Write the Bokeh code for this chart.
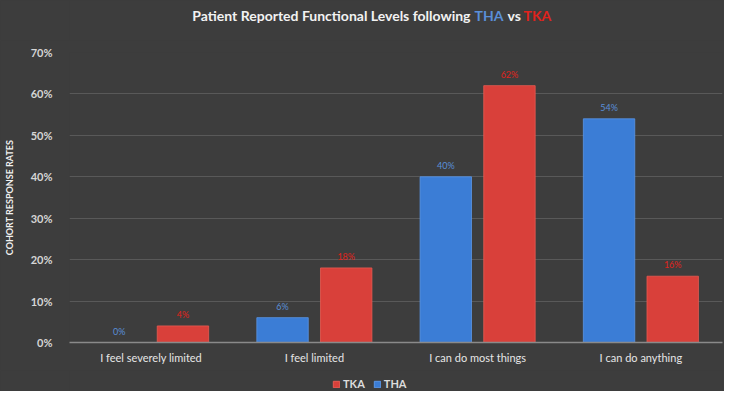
from bokeh.plotting import figure
from bokeh.layouts import column
from bokeh.models import ColumnDataSource, Legend, LegendItem, PrintfTickFormatter, FixedTicker
from bokeh.transform import dodge
from bokeh.core.properties import value
from bokeh.embed import file_html
from bokeh.resources import INLINE

categories = ["I feel severely limited", "I feel limited", "I can do most things", "I can do anything"]
tha = [0, 6, 40, 54]
tka = [4, 18, 62, 16]
y_ticks = [0, 10, 20, 30, 40, 50, 60, 70]
title_parts = ["Patient Reported Functional Levels following", "THA", "vs", "TKA"]
series_names = ["TKA", "THA"]

W = 724
FRAME_L, FRAME_R = 69, 722
BG = "#3d3d3d"
BLUE = "#3b7dd6"
RED = "#d9403a"
BLUE_TXT = "#5a8fd8"
RED_TXT = "#e0231c"
FONT = "Lato"


def strip(h, xr, yr):
    fig = figure(width=W, height=h, x_range=xr, y_range=yr,
                 output_backend="svg", toolbar_location=None,
                 min_border=0, min_border_left=FRAME_L, min_border_right=W - FRAME_R,
                 min_border_top=0, min_border_bottom=0)
    fig.background_fill_color = BG
    fig.border_fill_color = BG
    fig.outline_line_color = None
    fig.axis.visible = False
    fig.grid.visible = False
    return fig


# ---- title strip ----
TH = 40
pt = strip(TH, (FRAME_L, FRAME_R), (TH, 0))
tsrc = ColumnDataSource(dict(
    x=[470, 474, 507, 523], y=[15, 15, 15, 15], t=title_parts,
    align=["right", "left", "left", "left"],
    col=["#f2f2f2", BLUE_TXT, "#f2f2f2", RED_TXT],
))
pt.text(x="x", y="y", text="t", source=tsrc, text_align="align", text_color="col",
        text_baseline="middle", text_font=value(FONT), text_font_style="bold",
        text_font_size="14px")

# ---- main chart ----
MH = 330
src = ColumnDataSource(dict(
    cat=categories, tha=tha, tka=tka,
    tha_lbl=[f"{v}%" for v in tha], tka_lbl=[f"{v}%" for v in tka],
))

p = figure(x_range=categories, y_range=(0, 70), width=W, height=MH,
           output_backend="svg", toolbar_location=None,
           min_border_left=FRAME_L, min_border_right=W - FRAME_R,
           min_border_top=12, min_border_bottom=28)
p.background_fill_color = BG
p.border_fill_color = BG
p.outline_line_color = None

r_tha = p.vbar(x=dodge("cat", -0.195, range=p.x_range), top="tha", width=0.315, source=src,
               fill_color=BLUE, line_color="#5a96e6", line_width=0.8)
r_tka = p.vbar(x=dodge("cat", 0.195, range=p.x_range), top="tka", width=0.315, source=src,
               fill_color=RED, line_color="#e85a52", line_width=0.8)

p.text(x=dodge("cat", -0.195, range=p.x_range), y="tha", text="tha_lbl", source=src,
       text_align="center", text_baseline="bottom", y_offset=-6,
       text_font=value(FONT), text_font_size="9px", text_color=BLUE_TXT)
p.text(x=dodge("cat", 0.195, range=p.x_range), y="tka", text="tka_lbl", source=src,
       text_align="center", text_baseline="bottom", y_offset=-6,
       text_font=value(FONT), text_font_size="9px", text_color=RED_TXT)

p.yaxis.ticker = FixedTicker(ticks=y_ticks)
p.yaxis.formatter = PrintfTickFormatter(format="%d%%")
p.yaxis.axis_line_color = None
p.yaxis.major_tick_line_color = None
p.yaxis.minor_tick_line_color = None
p.yaxis.major_label_text_color = "#d6d6d6"
p.yaxis.major_label_text_font = FONT
p.yaxis.major_label_text_font_style = "bold"
p.yaxis.major_label_text_font_size = "11px"
p.yaxis.major_label_standoff = 11
p.yaxis.axis_label = "COHORT RESPONSE RATES"
p.yaxis.axis_label_text_color = "#f0f0f0"
p.yaxis.axis_label_text_font = FONT
p.yaxis.axis_label_text_font_style = "bold"
p.yaxis.axis_label_text_font_size = "9px"
p.yaxis.axis_label_standoff = 13

p.xaxis.axis_line_color = "#8a8a8a"
p.xaxis.axis_line_width = 1.5
p.xaxis.major_tick_line_color = None
p.xaxis.minor_tick_line_color = None
p.xaxis.major_label_text_color = "#e6e6e6"
p.xaxis.major_label_text_font = FONT
p.xaxis.major_label_text_font_size = "11px"
p.xaxis.major_label_standoff = 2

p.xgrid.grid_line_color = None
p.ygrid.grid_line_color = "#595959"
p.ygrid.grid_line_width = 1

# ---- legend strip ----
LH = 391 - TH - MH
pl = strip(LH, (0, 1), (0, 1))
# helper renderers outside the visible range, used only for legend swatches
l_tka = pl.vbar(x=[-9], top=[-9], bottom=[-10], width=0.1, fill_color=RED, line_color="#e85a52")
l_tha = pl.vbar(x=[-9], top=[-9], bottom=[-10], width=0.1, fill_color=BLUE, line_color="#5a96e6")
legend = Legend(items=[LegendItem(label=series_names[0], renderers=[l_tka]),
                       LegendItem(label=series_names[1], renderers=[l_tha])],
                orientation="horizontal", location=(263, 1),
                background_fill_alpha=0, border_line_color=None,
                label_text_color="#dcdcdc", label_text_font=FONT,
                label_text_font_style="bold", label_text_font_size="11px",
                glyph_width=8, glyph_height=8, label_standoff=3, spacing=8,
                margin=0, padding=2)
pl.add_layout(legend, "center")

layout = column(pt, p, pl, spacing=0, styles={"background-color": BG})
open("out.html", "w").write(file_html(layout, INLINE))
